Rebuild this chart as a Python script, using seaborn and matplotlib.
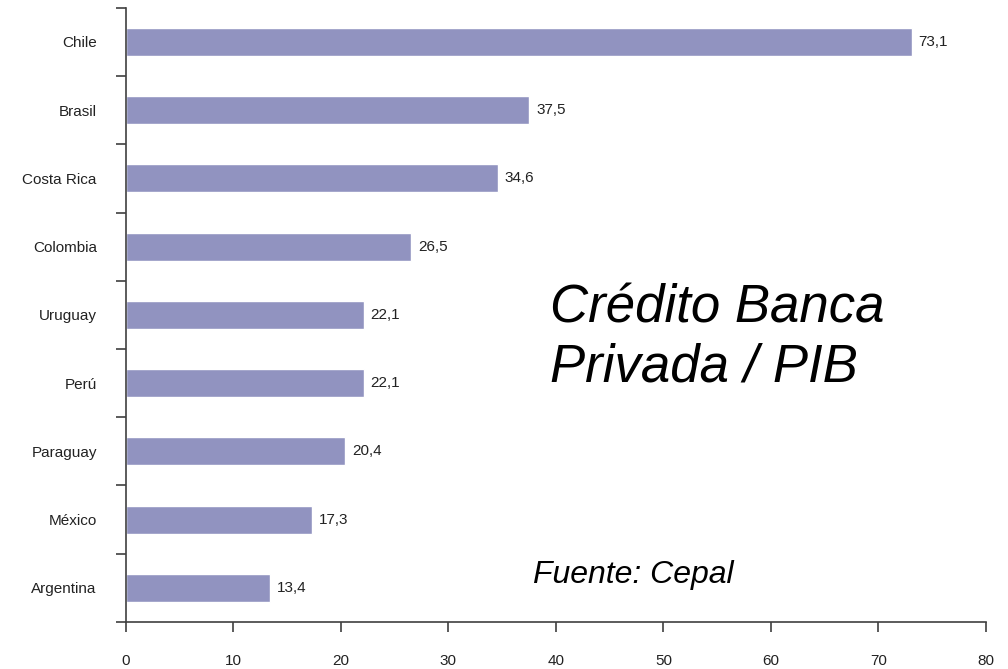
import pandas as pd
import numpy as np
import matplotlib.pyplot as plt
import seaborn as sns

# data
paises = ['Chile', 'Brasil', 'Costa Rica', 'Colombia', 'Uruguay', 'Perú',
          'Paraguay', 'México', 'Argentina']
credito = [73.1, 37.5, 34.6, 26.5, 22.1, 22.1, 20.4, 17.3, 13.4]
x_ticks = [0, 10, 20, 30, 40, 50, 60, 70, 80]

df = pd.DataFrame({'pais': paises, 'credito': credito})

sns.set_style('white')
plt.rcParams['font.family'] = ['Liberation Sans', 'DejaVu Sans']

fig = plt.figure(figsize=(10.08, 6.69), dpi=100)
ax = fig.add_axes([0.125, 0.0703, 0.853, 0.918])

sns.barplot(data=df, x='credito', y='pais', orient='h', color='#9193c0',
            saturation=1, width=0.41, ax=ax)

# value labels
for i, v in enumerate(credito):
    ax.text(v + 0.65, i, f'{v:.1f}'.replace('.', ','), va='center', ha='left',
            fontsize=11, color='#222222')

ax.set_xlim(0, 80)
ax.set_ylim(len(paises) - 0.5, -0.5)
ax.set_xticks(x_ticks)
ax.set_xlabel('')
ax.set_ylabel('')

# ticks on category borders, labels in the middle
ax.set_yticks(np.arange(len(paises) + 1) - 0.5, minor=True)
ax.tick_params(axis='y', which='major', length=0, pad=21, labelsize=11,
               labelcolor='#222222')
ax.tick_params(axis='y', which='minor', left=True, length=7, width=1.2,
               color='#404040', direction='out')
ax.tick_params(axis='x', which='major', bottom=True, length=7, width=1.2,
               color='#404040', direction='out', pad=16, labelsize=11,
               labelcolor='#222222')

sns.despine(ax=ax)
for s in ['left', 'bottom']:
    ax.spines[s].set_color('#404040')
    ax.spines[s].set_linewidth(1.2)

fig.text(0.546, 0.495, 'Crédito Banca\nPrivada / PIB', fontsize=38,
         style='italic', ha='left', va='center', color='black',
         linespacing=1.22)
fig.text(0.529, 0.14, 'Fuente: Cepal', fontsize=23, style='italic',
         ha='left', va='center', color='black')

fig.savefig('out.png', dpi=100)
